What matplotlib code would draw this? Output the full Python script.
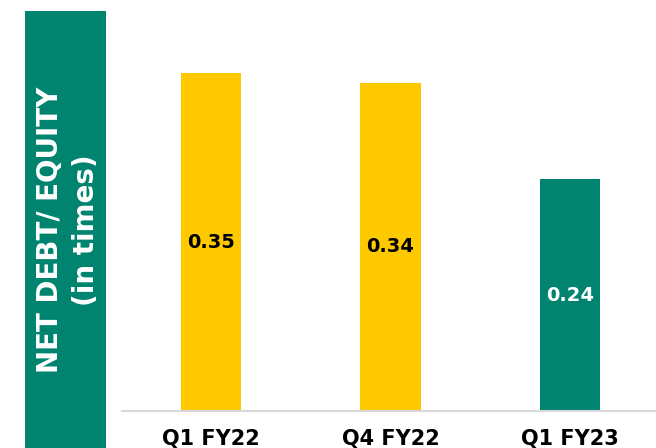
import matplotlib.pyplot as plt
from matplotlib.patches import Rectangle

# data
periods = ["Q1 FY22", "Q4 FY22", "Q1 FY23"]
ratios = [0.35, 0.34, 0.24]
bar_colors = ["#FFC900", "#FFC900", "#008470"]
label_colors = ["black", "black", "white"]

W, H = 656, 448
fig = plt.figure(figsize=(W / 100, H / 100), dpi=100)

# green side panel with the axis title
fig.patches.append(Rectangle((25 / W, 0), 81 / W, 437 / H, transform=fig.transFigure,
                             facecolor="#008470", edgecolor="none", zorder=0))
fig.text(68 / W, 1 - 230 / H, "NET DEBT/ EQUITY\n(in times)", rotation=90,
         ha="center", va="center", color="white", fontsize=20, fontweight="bold",
         linespacing=1.35)

# axes: baseline at y=411 px, 0.4 at y=25 px
ax = fig.add_axes([122 / W, 1 - 411 / H, (W - 122) / W, 386 / H])
x = range(len(periods))
bars = ax.bar(x, ratios, width=0.335, color=bar_colors)
for b, v, c in zip(bars, ratios, label_colors):
    ax.text(b.get_x() + b.get_width() / 2, v / 2, f"{v:.2f}", ha="center", va="center",
            color=c, fontsize=14, fontweight="bold")

ax.set_xlim(-0.496, 2.479)
ax.set_ylim(0, 0.4)
ax.set_xticks(list(x))
ax.set_xticklabels(periods, fontsize=15, fontweight="bold")
ax.tick_params(axis="x", length=0, pad=13)
ax.set_yticks([])
for s in ["top", "right", "left"]:
    ax.spines[s].set_visible(False)
ax.spines["bottom"].set_color("#d9d9d9")
ax.spines["bottom"].set_linewidth(1.5)

fig.savefig("out.png", dpi=100)
